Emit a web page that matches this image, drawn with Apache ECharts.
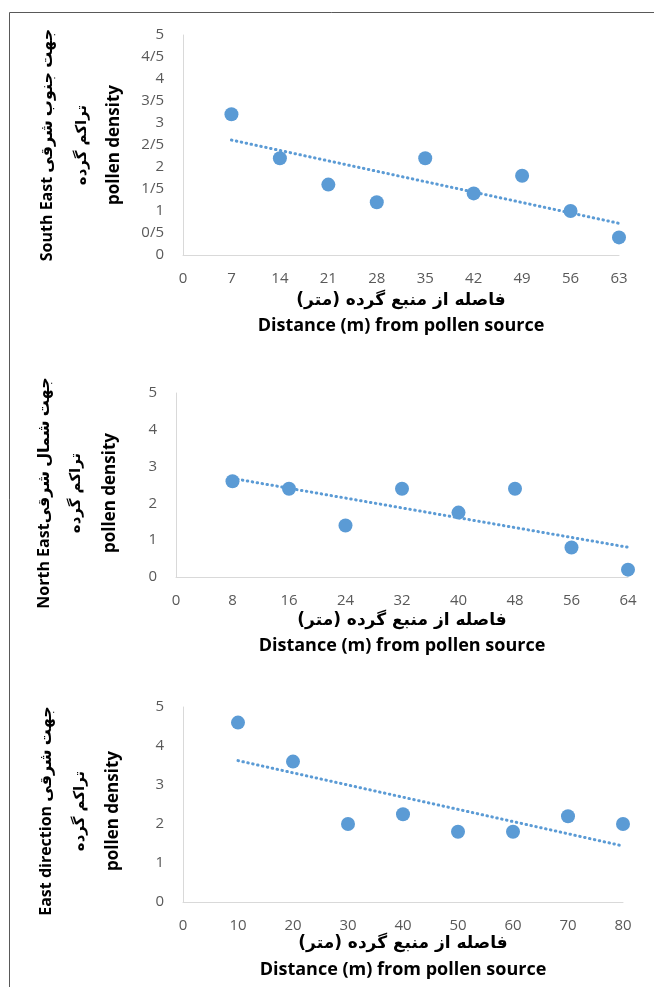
<!DOCTYPE html>
<html>
<head>
<meta charset="utf-8">
<script src="https://cdn.jsdelivr.net/npm/echarts@6/dist/echarts.min.js"></script>
<style>
  html, body { margin: 0; padding: 0; background: #fff; }
  #chart { width: 654px; height: 987px; }
</style>
</head>
<body>
<div id="chart"></div>
<script>
// South East
var seDist = [7, 14, 21, 28, 35, 42, 49, 56, 63];
var seDensity = [3.2, 2.2, 1.6, 1.2, 2.2, 1.4, 1.8, 1.0, 0.4];
// North East
var neDist = [8, 16, 24, 32, 40, 48, 56, 64];
var neDensity = [2.6, 2.4, 1.4, 2.4, 1.75, 2.4, 0.8, 0.2];
// East
var eDist = [10, 20, 30, 40, 50, 60, 70, 80];
var eDensity = [4.6, 3.6, 2.0, 2.25, 1.8, 1.8, 2.2, 2.0];

var xTitleFa = 'فاصله از منبع گرده (متر)\u200F';
var xTitleEn = 'Distance (m) from pollen source';
var yTitleFa = 'تراکم گرده';
var yTitleEn = 'pollen density';
var dirTitles = ['South East جهت جنوب شرقی', 'North Eastجهت شمال شرقی', 'East direction جهت شرقی'];

var blue = '#5b9bd5';
var tickFont = { color: '#595959', fontSize: 15, fontFamily: 'Open Sans' };

// linear trendline like Excel's
function trend(xs, ys) {
    var n = xs.length, mx = 0, my = 0;
    for (var i = 0; i < n; i++) { mx += xs[i]; my += ys[i]; }
    mx /= n; my /= n;
    var sxy = 0, sxx = 0;
    for (var j = 0; j < n; j++) {
        sxy += (xs[j] - mx) * (ys[j] - my);
        sxx += (xs[j] - mx) * (xs[j] - mx);
    }
    var b = sxy / sxx, a = my - b * mx;
    var x0 = xs[0], x1 = xs[n - 1];
    return [[x0, a + b * x0], [x1, a + b * x1]];
}

function pairs(xs, ys) {
    return xs.map(function(x, i) { return [x, ys[i]]; });
}

var grids = [
    { left: 183, right: 35, top: 35, height: 220 },
    { left: 176, right: 26, top: 393, height: 184 },
    { left: 183, right: 31, top: 707, height: 195 }
];
var xMax = [63, 64, 80];
var xStep = [7, 8, 10];
var yStep = [0.5, 1, 1];

var xAxes = [], yAxes = [], series = [];
[[seDist, seDensity], [neDist, neDensity], [eDist, eDensity]].forEach(function(d, i) {
    xAxes.push({
        gridIndex: i, type: 'value', min: 0, max: xMax[i], interval: xStep[i],
        axisLine: { lineStyle: { color: '#d9d9d9' } },
        axisTick: { show: false }, splitLine: { show: false },
        axisLabel: Object.assign({ margin: 16 }, tickFont)
    });
    yAxes.push({
        gridIndex: i, type: 'value', min: 0, max: 5, interval: yStep[i],
        axisLine: { show: true, lineStyle: { color: '#d9d9d9' } },
        axisTick: { show: false }, splitLine: { show: false },
        axisLabel: Object.assign({
            margin: 19,
            formatter: function(v) { return String(v).replace('.', '/'); }
        }, tickFont)
    });
    series.push({
        type: 'scatter', xAxisIndex: i, yAxisIndex: i,
        data: pairs(d[0], d[1]), symbolSize: 14,
        itemStyle: { color: blue, opacity: 1 }, z: 3
    });
    series.push({
        type: 'line', xAxisIndex: i, yAxisIndex: i,
        data: trend(d[0], d[1]), symbol: 'none',
        lineStyle: { color: blue, width: 3, type: [0.5, 4.5], cap: 'round' }, z: 2
    });
});

// border and axis titles
var graphics = [
    { type: 'line', shape: { x1: 9.5, y1: 12.5, x2: 654, y2: 12.5 }, style: { stroke: '#595959', lineWidth: 1 } },
    { type: 'line', shape: { x1: 9.5, y1: 12.5, x2: 9.5, y2: 987 }, style: { stroke: '#595959', lineWidth: 1 } }
];
var xTitleY = [[301, 326], [621, 646], [944, 970]];
var yCols = [[47, 82, 114, 145], [44, 76, 110, 493], [46, 80, 113, 811]];
grids.forEach(function(g, i) {
    var cx = g.left + (654 - g.left - g.right) / 2;
    graphics.push({
        type: 'text', x: cx, y: xTitleY[i][0],
        style: { text: xTitleFa, fill: '#000', font: 'bold 17px "DejaVu Sans"', textAlign: 'center', textVerticalAlign: 'middle' }
    });
    graphics.push({
        type: 'text', x: cx, y: xTitleY[i][1],
        style: { text: xTitleEn, fill: '#000', font: 'bold 18px "Open Sans"', textAlign: 'center', textVerticalAlign: 'middle' }
    });
    var c = yCols[i];
    graphics.push({
        type: 'text', x: c[0], y: c[3], rotation: Math.PI / 2,
        style: { text: dirTitles[i], fill: '#000', font: 'bold 16px "Open Sans", "DejaVu Sans"', textAlign: 'center', textVerticalAlign: 'middle' }
    });
    graphics.push({
        type: 'text', x: c[1], y: c[3], rotation: Math.PI / 2,
        style: { text: yTitleFa, fill: '#000', font: 'bold 15px "DejaVu Sans"', textAlign: 'center', textVerticalAlign: 'middle' }
    });
    graphics.push({
        type: 'text', x: c[2], y: c[3], rotation: Math.PI / 2,
        style: { text: yTitleEn, fill: '#000', font: 'bold 17px "Open Sans"', textAlign: 'center', textVerticalAlign: 'middle' }
    });
});

var myChart = echarts.init(document.getElementById('chart'), null, { renderer: 'canvas' });
myChart.setOption({
    animation: false,
    grid: grids,
    xAxis: xAxes,
    yAxis: yAxes,
    series: series,
    graphic: graphics
});
</script>
</body>
</html>
